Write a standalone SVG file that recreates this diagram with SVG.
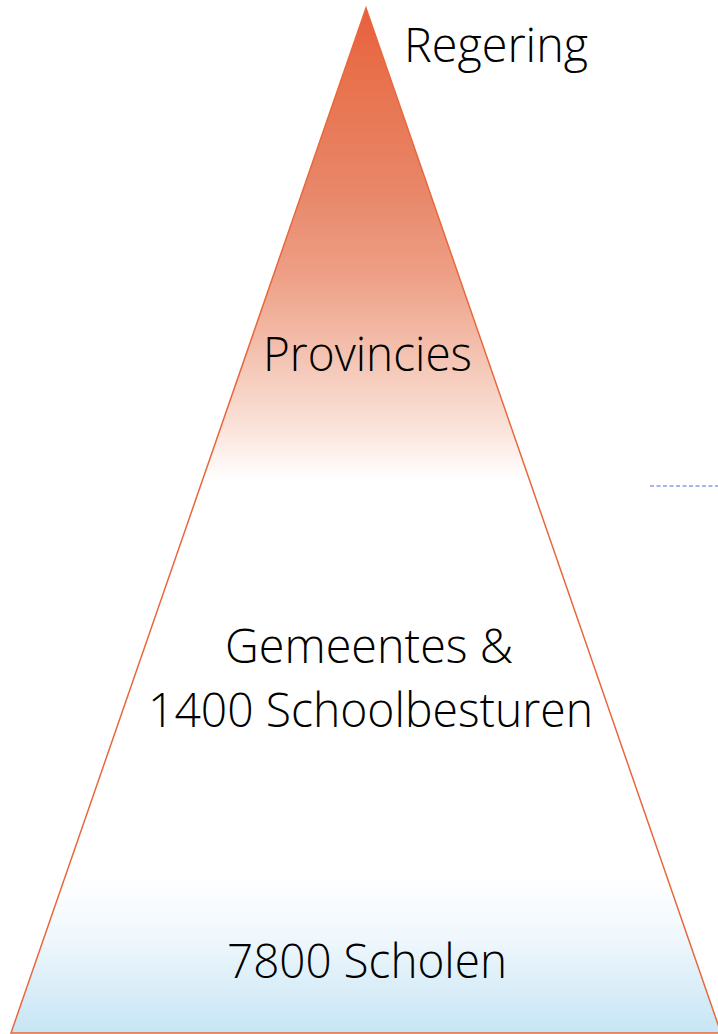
<svg xmlns="http://www.w3.org/2000/svg" width="718" height="1034" viewBox="0 0 718 1034">
<defs>
<linearGradient id="g" x1="0" y1="8" x2="0" y2="1033" gradientUnits="userSpaceOnUse">
<stop offset="0" stop-color="#E85E3E"/>
<stop offset="0.06" stop-color="#E8704A"/>
<stop offset="0.18" stop-color="#E8876A"/>
<stop offset="0.26" stop-color="#EE9F86"/>
<stop offset="0.34" stop-color="#F4C3B2"/>
<stop offset="0.41" stop-color="#FAE3DA"/>
<stop offset="0.46" stop-color="#FFFFFF"/>
<stop offset="0.85" stop-color="#FFFFFF"/>
<stop offset="0.91" stop-color="#EEF7FC"/>
<stop offset="1" stop-color="#C6E5F5"/>
</linearGradient>
<style>
.t{font-family:"Open Sans","Liberation Sans",sans-serif;font-weight:300;font-size:47px;fill:#000}
</style>
</defs>
<rect width="718" height="1034" fill="#fff"/>
<g id="pyramid">
<polygon points="366,8 11,1033 721,1033" fill="url(#g)" stroke="#E8683C" stroke-width="1.5"/>
</g>
<g id="connectors">
<line x1="650" y1="486" x2="718" y2="486" stroke="#4472D4" stroke-width="1.2" stroke-dasharray="4,2.5"/>
</g>
<g id="regering"><text class="t" x="404" y="62" textLength="184" lengthAdjust="spacingAndGlyphs">Regering</text></g>
<g id="provincies"><text class="t" x="263" y="371" textLength="209" lengthAdjust="spacingAndGlyphs">Provincies</text></g>
<g id="gemeentes"><text class="t" x="225" y="663" textLength="288" lengthAdjust="spacingAndGlyphs">Gemeentes &amp;</text>
<text class="t" x="148" y="727" textLength="445" lengthAdjust="spacingAndGlyphs">1400 Schoolbesturen</text></g>
<g id="scholen"><text class="t" x="227" y="978" textLength="280" lengthAdjust="spacingAndGlyphs">7800 Scholen</text></g>
</svg>
